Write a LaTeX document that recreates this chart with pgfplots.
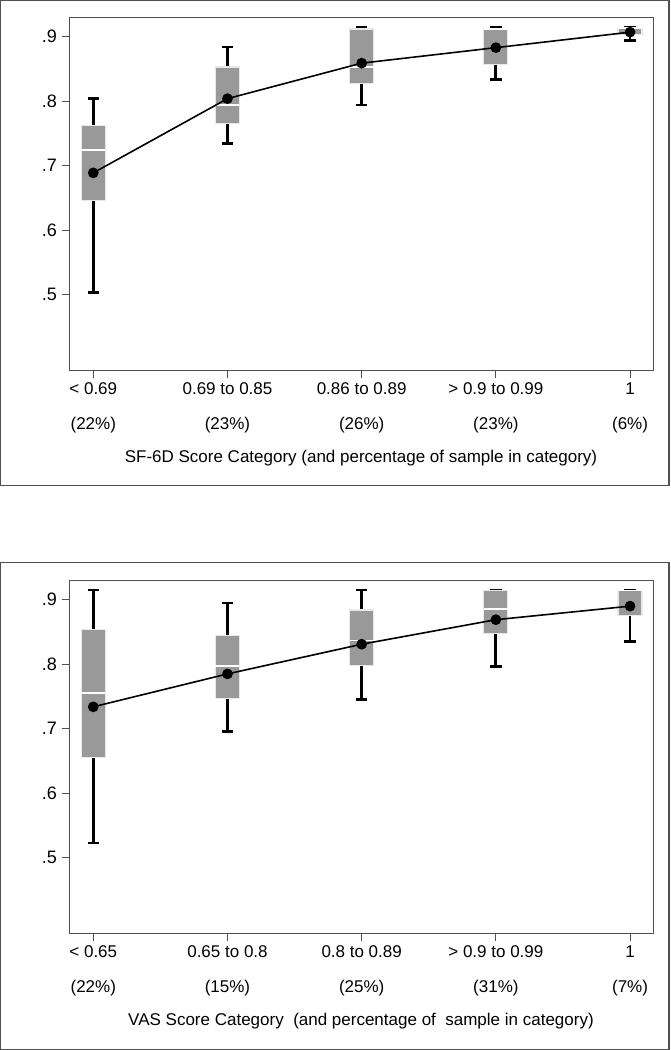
\documentclass[border=0pt]{standalone}
\usepackage{pgfplots}
\pgfplotsset{compat=1.18}
\usepgfplotslibrary{statistics}
\usepackage{fontspec}
\setmainfont{Liberation Sans}
\definecolor{boxgray}{HTML}{999999}
\definecolor{boxedge}{HTML}{E8E8E8}
\definecolor{framegray}{HTML}{505050}
\newcommand{\mybox}[6]{%
\addplot[black, boxplot/draw direction=y, boxplot prepared={draw position=#1, lower whisker=#2, lower quartile=#3, median=#4, upper quartile=#5, upper whisker=#6}] coordinates {};}
\pgfplotsset{
  panel/.style={
    scale only axis, width=438pt, height=265pt,
    xmin=0.819, xmax=5.171, ymin=0.383, ymax=0.9305,
    xtick={1,2,3,4,5}, ytick={0.5,0.6,0.7,0.8,0.9},
    yticklabels={.5,.6,.7,.8,.9},
    tick align=outside, tick pos=left, major tick length=5.5pt,
    axis line style={draw=framegray, line width=0.6pt},
    tick style={draw=framegray, line width=0.6pt},
    xticklabel style={font=\fontsize{12.75}{26.8}\selectfont, align=center, anchor=north},
    yticklabel style={font=\fontsize{13.5}{15}\selectfont},
    every axis x label/.style={at={(axis description cs:0.5,0)}, anchor=center, yshift=-65.5pt, font=\fontsize{12.75}{15}\selectfont},
    clip=false,
    boxplot/draw direction=y,
    boxplot/box extend=0.179,
    boxplot/whisker extend=0.085,
    boxplot/every box/.style={fill=boxgray, draw=boxedge, line width=0.9pt},
    boxplot/every median/.style={draw=white, line width=1.2pt},
    boxplot/every whisker/.style={draw=black, line width=2.1pt},
  }
}
\begin{document}
\begin{tikzpicture}
\path[use as bounding box] (0,0) rectangle (503.25pt,-787.5pt);
\draw[framegray, line width=0.8pt] (0.6pt,-0.6pt) rectangle (501.75pt,-364.3pt);
\draw[framegray, line width=0.8pt] (0.6pt,-422pt) rectangle (501.75pt,-786.8pt);
\begin{axis}[panel, at={(51.75pt,-12.75pt)}, anchor=north west,
  xticklabels={{< 0.69\\(22\%)},{0.69 to 0.85\\(23\%)},{0.86 to 0.89\\(26\%)},{> 0.9 to 0.99\\(23\%)},{1\\(6\%)}},
  xlabel={SF-6D Score Category (and percentage of sample in category)}]
\mybox{1}{0.504}{0.646}{0.724}{0.763}{0.804}
\mybox{2}{0.734}{0.766}{0.794}{0.853}{0.884}
\mybox{3}{0.794}{0.828}{0.853}{0.912}{0.915}
\mybox{4}{0.834}{0.857}{0.912}{0.912}{0.915}
\mybox{5}{0.894}{0.904}{0.913}{0.913}{0.915}
\addplot[black, line width=1.2pt, mark=*, mark size=3.4pt] coordinates {(1,0.689)(2,0.804)(3,0.859)(4,0.883)(5,0.907)};
\end{axis}
\begin{axis}[panel, at={(51.75pt,-435pt)}, anchor=north west,
  xticklabels={{< 0.65\\(22\%)},{0.65 to 0.8\\(15\%)},{0.8 to 0.89\\(25\%)},{> 0.9 to 0.99\\(31\%)},{1\\(7\%)}},
  xlabel={VAS Score Category~ (and percentage of~ sample in category)}]
\mybox{1}{0.523}{0.656}{0.755}{0.854}{0.915}
\mybox{2}{0.696}{0.747}{0.797}{0.844}{0.895}
\mybox{3}{0.745}{0.798}{0.837}{0.884}{0.915}
\mybox{4}{0.796}{0.847}{0.886}{0.914}{0.915}
\mybox{5}{0.835}{0.876}{0.914}{0.914}{0.915}
\addplot[black, line width=1.2pt, mark=*, mark size=3.4pt] coordinates {(1,0.734)(2,0.785)(3,0.831)(4,0.869)(5,0.890)};
\end{axis}
\end{tikzpicture}
\end{document}
